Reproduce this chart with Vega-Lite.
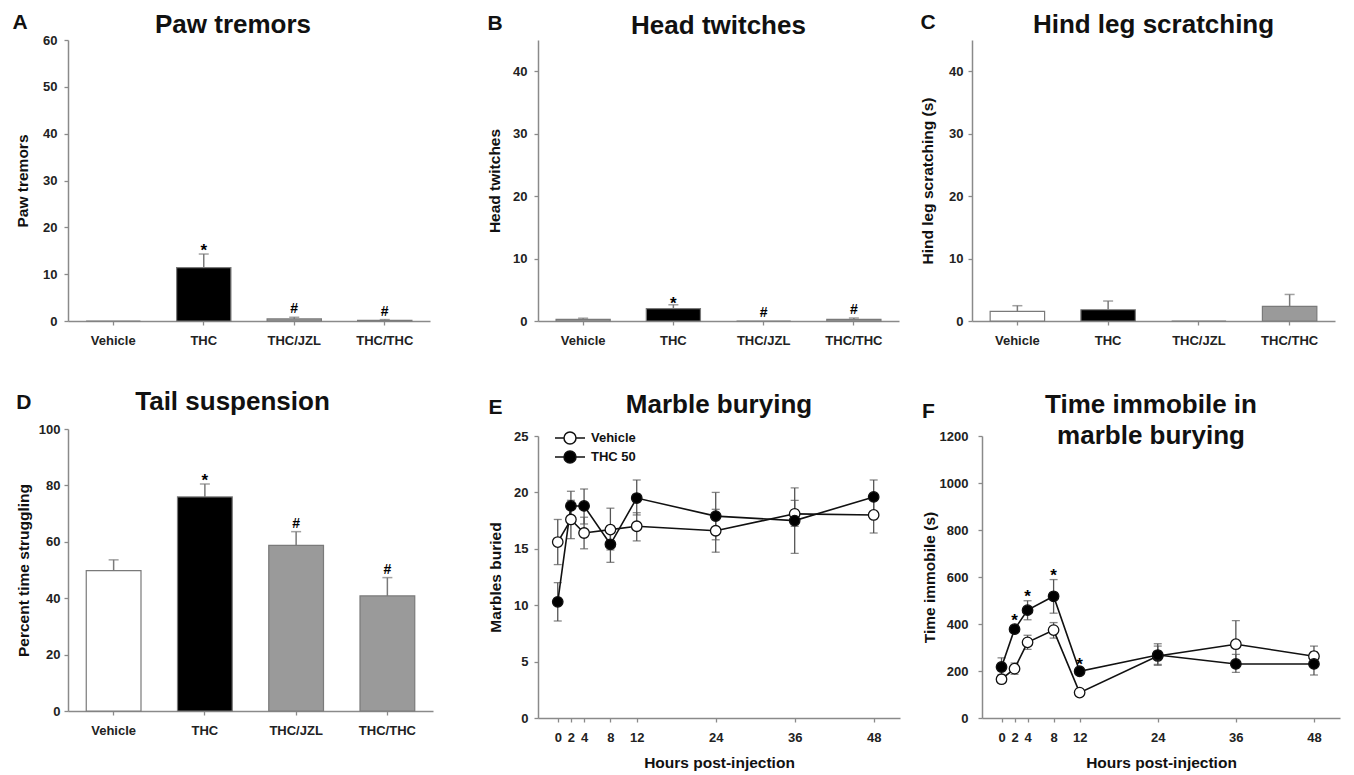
{
  "$schema": "https://vega.github.io/schema/vega-lite/v6.json",
  "background": "white",
  "padding": {"left": 12, "top": 12, "right": 5, "bottom": 2},
  "config": {
    "font": "Liberation Sans",
    "view": {"stroke": null},
    "axis": {"domainColor": "#8a8a8a", "tickColor": "#8a8a8a", "domainWidth": 1.5, "tickWidth": 1.3, "tickSize": 4, "labelFontSize": 13, "labelFontWeight": "bold", "labelColor": "#222222", "titleFontSize": 15.5, "titleFontWeight": "bold", "titleColor": "#111111", "grid": false},
    "axisY": {"labelPadding": 6, "titlePadding": 10},
    "axisX": {"labelPadding": 9, "titlePadding": 11},
    "title": {"fontSize": 26, "fontWeight": "bold", "color": "#111111", "frame": "group"}
  },
  "resolve": {"scale": {"fill": "independent"}, "legend": {"fill": "independent"}},
  "spacing": 54,
  "hconcat": [
    {
      "resolve": {"scale": {"fill": "independent"}, "legend": {"fill": "independent"}},
      "spacing": 42,
      "vconcat": [
        {
          "title": {"text": "A", "anchor": "start", "frame": "bounds", "offset": -21, "fontSize": 21, "dx": -3},
          "vconcat": [{
            "width": 362, "height": 281,
            "title": {"text": "Paw tremors", "offset": -4, "dx": -16},
            "data": {"values": [
              {"g": "Vehicle", "v": 0, "hi": 0, "sig": ""},
              {"g": "THC", "v": 11.4, "hi": 14.3, "sig": "*"},
              {"g": "THC/JZL", "v": 0.45, "hi": 0.8, "sig": "#"},
              {"g": "THC/THC", "v": 0.15, "hi": 0.3, "sig": "#"}
            ]},
            "encoding": {"x": {"field": "g", "type": "nominal", "sort": ["Vehicle", "THC", "THC/JZL", "THC/THC"], "scale": {"paddingInner": 0.4, "paddingOuter": 0.2}, "axis": {"title": null, "labelAngle": 0, "bandPosition": 0.5}}},
            "layer": [
              {"mark": {"type": "bar", "stroke": "#7a7a7a", "strokeWidth": 1.2}, "encoding": {"y": {"field": "v", "type": "quantitative", "title": "Paw tremors", "scale": {"domain": [0, 60], "nice": false}, "axis": {"values": [0, 10, 20, 30, 40, 50, 60], "labelPadding": 7, "titlePadding": 12}}, "fill": {"field": "g", "type": "nominal", "scale": {"domain": ["Vehicle", "THC", "THC/JZL", "THC/THC"], "range": ["#ffffff", "#000000", "#9a9a9a", "#9a9a9a"]}, "legend": null}}},
              {"transform": [{"filter": "datum.hi > datum.v"}], "mark": {"type": "rule", "color": "#7a7a7a", "strokeWidth": 1.5}, "encoding": {"y": {"field": "v", "type": "quantitative", "title": "Paw tremors"}, "y2": {"field": "hi"}}},
              {"transform": [{"filter": "datum.hi > datum.v"}], "mark": {"type": "tick", "orient": "horizontal", "color": "#7a7a7a", "thickness": 1.5, "size": 10}, "encoding": {"y": {"field": "hi", "type": "quantitative", "title": "Paw tremors"}}},
              {"transform": [{"filter": "datum.sig == '*'"}], "mark": {"type": "text", "fontSize": 17, "fontWeight": "bold", "baseline": "alphabetic", "dy": 2}, "encoding": {"y": {"field": "hi", "type": "quantitative", "title": "Paw tremors"}, "text": {"field": "sig"}}},
              {"transform": [{"filter": "datum.sig == '#'"}], "mark": {"type": "text", "fontSize": 14, "fontWeight": "bold", "baseline": "alphabetic", "dy": -4}, "encoding": {"y": {"field": "hi", "type": "quantitative", "title": "Paw tremors"}, "text": {"field": "sig"}}}
            ]
          }]
        },
        {
          "title": {"text": "D", "anchor": "start", "frame": "bounds", "offset": -24, "fontSize": 21},
          "vconcat": [{
            "width": 365, "height": 282,
            "title": {"text": "Tail suspension", "offset": 8, "dx": -18},
            "data": {"values": [
              {"g": "Vehicle", "v": 49.8, "hi": 53.6, "sig": ""},
              {"g": "THC", "v": 75.9, "hi": 80.5, "sig": "*"},
              {"g": "THC/JZL", "v": 58.7, "hi": 63.6, "sig": "#"},
              {"g": "THC/THC", "v": 40.8, "hi": 47.3, "sig": "#"}
            ]},
            "encoding": {"x": {"field": "g", "type": "nominal", "sort": ["Vehicle", "THC", "THC/JZL", "THC/THC"], "scale": {"paddingInner": 0.4, "paddingOuter": 0.2}, "axis": {"title": null, "labelAngle": 0, "bandPosition": 0.5}}},
            "layer": [
              {"mark": {"type": "bar", "stroke": "#7a7a7a", "strokeWidth": 1.2}, "encoding": {"y": {"field": "v", "type": "quantitative", "title": "Percent time struggling", "scale": {"domain": [0, 100], "nice": false}, "axis": {"values": [0, 20, 40, 60, 80, 100], "labelPadding": 4, "titlePadding": 7}}, "fill": {"field": "g", "type": "nominal", "scale": {"domain": ["Vehicle", "THC", "THC/JZL", "THC/THC"], "range": ["#ffffff", "#000000", "#9a9a9a", "#9a9a9a"]}, "legend": null}}},
              {"transform": [{"filter": "datum.hi > datum.v"}], "mark": {"type": "rule", "color": "#7a7a7a", "strokeWidth": 1.5}, "encoding": {"y": {"field": "v", "type": "quantitative", "title": "Percent time struggling"}, "y2": {"field": "hi"}}},
              {"transform": [{"filter": "datum.hi > datum.v"}], "mark": {"type": "tick", "orient": "horizontal", "color": "#7a7a7a", "thickness": 1.5, "size": 10}, "encoding": {"y": {"field": "hi", "type": "quantitative", "title": "Percent time struggling"}}},
              {"transform": [{"filter": "datum.sig == '*'"}], "mark": {"type": "text", "fontSize": 17, "fontWeight": "bold", "baseline": "alphabetic", "dy": 2}, "encoding": {"y": {"field": "hi", "type": "quantitative", "title": "Percent time struggling"}, "text": {"field": "sig"}}},
              {"transform": [{"filter": "datum.sig == '#'"}], "mark": {"type": "text", "fontSize": 14, "fontWeight": "bold", "baseline": "alphabetic", "dy": -4}, "encoding": {"y": {"field": "hi", "type": "quantitative", "title": "Percent time struggling"}, "text": {"field": "sig"}}}
            ]
          }]
        }
      ]
    },
    {
      "resolve": {"scale": {"fill": "independent"}, "legend": {"fill": "independent"}},
      "spacing": 45,
      "vconcat": [
        {
          "resolve": {"scale": {"fill": "independent"}, "legend": {"fill": "independent"}},
          "spacing": 21,
          "hconcat": [
            {
              "title": {"text": "B", "anchor": "start", "frame": "bounds", "offset": -21, "fontSize": 21},
              "vconcat": [{
                "width": 361, "height": 281,
                "title": {"text": "Head twitches", "offset": 1},
                "data": {"values": [
                  {"g": "Vehicle", "v": 0.27, "hi": 0.45, "sig": ""},
                  {"g": "THC", "v": 1.97, "hi": 2.6, "sig": "*"},
                  {"g": "THC/JZL", "v": 0, "hi": 0, "sig": "#"},
                  {"g": "THC/THC", "v": 0.27, "hi": 0.48, "sig": "#"}
                ]},
                "encoding": {"x": {"field": "g", "type": "nominal", "sort": ["Vehicle", "THC", "THC/JZL", "THC/THC"], "scale": {"paddingInner": 0.4, "paddingOuter": 0.2}, "axis": {"title": null, "labelAngle": 0, "bandPosition": 0.5}}},
                "layer": [
                  {"mark": {"type": "bar", "stroke": "#7a7a7a", "strokeWidth": 1.2}, "encoding": {"y": {"field": "v", "type": "quantitative", "title": "Head twitches", "scale": {"domain": [0, 45], "nice": false}, "axis": {"values": [0, 10, 20, 30, 40], "labelPadding": 7, "titlePadding": 10}}, "fill": {"field": "g", "type": "nominal", "scale": {"domain": ["Vehicle", "THC", "THC/JZL", "THC/THC"], "range": ["#9a9a9a", "#000000", "#9a9a9a", "#9a9a9a"]}, "legend": null}}},
                  {"transform": [{"filter": "datum.hi > datum.v"}], "mark": {"type": "rule", "color": "#7a7a7a", "strokeWidth": 1.5}, "encoding": {"y": {"field": "v", "type": "quantitative", "title": "Head twitches"}, "y2": {"field": "hi"}}},
                  {"transform": [{"filter": "datum.hi > datum.v"}], "mark": {"type": "tick", "orient": "horizontal", "color": "#7a7a7a", "thickness": 1.5, "size": 10}, "encoding": {"y": {"field": "hi", "type": "quantitative", "title": "Head twitches"}}},
                  {"transform": [{"filter": "datum.sig == '*'"}], "mark": {"type": "text", "fontSize": 17, "fontWeight": "bold", "baseline": "alphabetic", "dy": 4}, "encoding": {"y": {"field": "hi", "type": "quantitative", "title": "Head twitches"}, "text": {"field": "sig"}}},
                  {"transform": [{"filter": "datum.sig == '#'"}], "mark": {"type": "text", "fontSize": 14, "fontWeight": "bold", "baseline": "alphabetic", "dy": -4}, "encoding": {"y": {"field": "hi", "type": "quantitative", "title": "Head twitches"}, "text": {"field": "sig"}}}
                ]
              }]
            },
            {
              "title": {"text": "C", "anchor": "start", "frame": "bounds", "offset": -21, "fontSize": 21},
              "vconcat": [{
                "width": 363, "height": 281,
                "title": {"text": "Hind leg scratching", "offset": 2},
                "data": {"values": [
                  {"g": "Vehicle", "v": 1.54, "hi": 2.45},
                  {"g": "THC", "v": 1.8, "hi": 3.2},
                  {"g": "THC/JZL", "v": 0, "hi": 0},
                  {"g": "THC/THC", "v": 2.34, "hi": 4.25}
                ]},
                "encoding": {"x": {"field": "g", "type": "nominal", "sort": ["Vehicle", "THC", "THC/JZL", "THC/THC"], "scale": {"paddingInner": 0.4, "paddingOuter": 0.2}, "axis": {"title": null, "labelAngle": 0, "bandPosition": 0.5}}},
                "layer": [
                  {"mark": {"type": "bar", "stroke": "#7a7a7a", "strokeWidth": 1.2}, "encoding": {"y": {"field": "v", "type": "quantitative", "title": "Hind leg scratching (s)", "scale": {"domain": [0, 45], "nice": false}, "axis": {"values": [0, 10, 20, 30, 40], "labelPadding": 5, "titlePadding": 13}}, "fill": {"field": "g", "type": "nominal", "scale": {"domain": ["Vehicle", "THC", "THC/JZL", "THC/THC"], "range": ["#ffffff", "#000000", "#9a9a9a", "#9a9a9a"]}, "legend": null}}},
                  {"transform": [{"filter": "datum.hi > datum.v"}], "mark": {"type": "rule", "color": "#7a7a7a", "strokeWidth": 1.5}, "encoding": {"y": {"field": "v", "type": "quantitative", "title": "Hind leg scratching (s)"}, "y2": {"field": "hi"}}},
                  {"transform": [{"filter": "datum.hi > datum.v"}], "mark": {"type": "tick", "orient": "horizontal", "color": "#7a7a7a", "thickness": 1.5, "size": 10}, "encoding": {"y": {"field": "hi", "type": "quantitative", "title": "Hind leg scratching (s)"}}}
                ]
              }]
            }
          ]
        },
        {
          "resolve": {"scale": {"fill": "independent"}, "legend": {"fill": "independent"}},
          "spacing": 22,
          "hconcat": [
            {
              "title": {"text": "E", "anchor": "start", "frame": "bounds", "offset": -26, "fontSize": 21},
              "vconcat": [{
                "width": 362, "height": 282,
                "title": {"text": "Marble burying", "offset": 12},
                "data": {"values": [
                  {"h": 0, "s": "Vehicle", "m": 15.6, "lo": 13.6, "hi": 17.6},
                  {"h": 2, "s": "Vehicle", "m": 17.6, "lo": 15.9, "hi": 19.3},
                  {"h": 4, "s": "Vehicle", "m": 16.4, "lo": 15.0, "hi": 17.8},
                  {"h": 8, "s": "Vehicle", "m": 16.7, "lo": 14.9, "hi": 18.6},
                  {"h": 12, "s": "Vehicle", "m": 17.0, "lo": 15.7, "hi": 18.2},
                  {"h": 24, "s": "Vehicle", "m": 16.6, "lo": 14.7, "hi": 18.5},
                  {"h": 36, "s": "Vehicle", "m": 18.1, "lo": 17.0, "hi": 19.3},
                  {"h": 48, "s": "Vehicle", "m": 18.0, "lo": 16.4, "hi": 19.6},
                  {"h": 0, "s": "THC 50", "m": 10.3, "lo": 8.6, "hi": 12.0},
                  {"h": 2, "s": "THC 50", "m": 18.8, "lo": 17.4, "hi": 20.1},
                  {"h": 4, "s": "THC 50", "m": 18.8, "lo": 17.2, "hi": 20.3},
                  {"h": 8, "s": "THC 50", "m": 15.4, "lo": 13.8, "hi": 17.0},
                  {"h": 12, "s": "THC 50", "m": 19.5, "lo": 18.0, "hi": 21.1},
                  {"h": 24, "s": "THC 50", "m": 17.9, "lo": 15.8, "hi": 20.0},
                  {"h": 36, "s": "THC 50", "m": 17.5, "lo": 14.6, "hi": 20.4},
                  {"h": 48, "s": "THC 50", "m": 19.6, "lo": 18.2, "hi": 21.1}
                ]},
                "encoding": {"x": {"field": "h", "type": "quantitative", "title": "Hours post-injection", "scale": {"domain": [-3, 52], "nice": false}, "axis": {"values": [0, 2, 4, 8, 12, 24, 36, 48]}}},
                "layer": [
                  {"mark": {"type": "rule", "color": "#555555", "strokeWidth": 1.3}, "encoding": {"y": {"field": "lo", "type": "quantitative", "title": "Marbles buried", "scale": {"domain": [0, 25], "nice": false}, "axis": {"values": [0, 5, 10, 15, 20, 25], "labelPadding": 6, "titlePadding": 10}}, "y2": {"field": "hi"}}},
                  {"mark": {"type": "tick", "orient": "horizontal", "color": "#555555", "thickness": 1.3, "size": 8}, "encoding": {"y": {"field": "lo", "type": "quantitative", "title": "Marbles buried"}}},
                  {"mark": {"type": "tick", "orient": "horizontal", "color": "#555555", "thickness": 1.3, "size": 8}, "encoding": {"y": {"field": "hi", "type": "quantitative", "title": "Marbles buried"}}},
                  {"mark": {"type": "line", "color": "#111111", "strokeWidth": 1.6}, "encoding": {"y": {"field": "m", "type": "quantitative", "title": "Marbles buried"}, "detail": {"field": "s"}}},
                  {"mark": {"type": "point", "filled": true, "size": 110, "opacity": 1, "stroke": "#111111", "strokeWidth": 1.3}, "encoding": {"y": {"field": "m", "type": "quantitative", "title": "Marbles buried"}, "fill": {"field": "s", "type": "nominal", "scale": {"domain": ["Vehicle", "THC 50"], "range": ["#ffffff", "#000000"]}, "legend": {"title": null, "orient": "none", "legendX": 25, "legendY": -5, "symbolType": "M-2.5,0L-1,0M1,0L2.5,0M1,0A1,1,0,1,1,-1,0A1,1,0,1,1,1,0Z", "symbolSize": 144, "symbolStrokeColor": "#111111", "symbolStrokeWidth": 1.5, "labelFontSize": 13, "labelFontWeight": "bold", "labelColor": "#111111", "labelOffset": 14, "rowPadding": 1}}}}
                ]
              }]
            },
            {
              "title": {"text": "F", "anchor": "start", "frame": "bounds", "offset": -30, "fontSize": 21},
              "vconcat": [{
                "width": 358, "height": 282,
                "title": {"text": "Time immobile in", "subtitle": "marble burying", "subtitleFontSize": 26, "subtitleFontWeight": "bold", "subtitleColor": "#111111", "subtitlePadding": 5, "offset": -19, "dx": -10},
                "data": {"values": [
                  {"h": 0, "s": "Vehicle", "m": 165, "lo": 148, "hi": 185, "sig": ""},
                  {"h": 2, "s": "Vehicle", "m": 210, "lo": 186, "hi": 234, "sig": ""},
                  {"h": 4, "s": "Vehicle", "m": 322, "lo": 292, "hi": 352, "sig": ""},
                  {"h": 8, "s": "Vehicle", "m": 374, "lo": 340, "hi": 406, "sig": ""},
                  {"h": 12, "s": "Vehicle", "m": 108, "lo": 100, "hi": 116, "sig": ""},
                  {"h": 24, "s": "Vehicle", "m": 264, "lo": 224, "hi": 306, "sig": ""},
                  {"h": 36, "s": "Vehicle", "m": 314, "lo": 214, "hi": 414, "sig": ""},
                  {"h": 48, "s": "Vehicle", "m": 263, "lo": 222, "hi": 306, "sig": ""},
                  {"h": 0, "s": "THC 50", "m": 217, "lo": 179, "hi": 256, "sig": ""},
                  {"h": 2, "s": "THC 50", "m": 378, "lo": 362, "hi": 394, "sig": "*"},
                  {"h": 4, "s": "THC 50", "m": 459, "lo": 418, "hi": 499, "sig": "*"},
                  {"h": 8, "s": "THC 50", "m": 518, "lo": 446, "hi": 589, "sig": "*"},
                  {"h": 12, "s": "THC 50", "m": 199, "lo": 189, "hi": 210, "sig": "*"},
                  {"h": 24, "s": "THC 50", "m": 268, "lo": 228, "hi": 316, "sig": ""},
                  {"h": 36, "s": "THC 50", "m": 230, "lo": 194, "hi": 271, "sig": ""},
                  {"h": 48, "s": "THC 50", "m": 230, "lo": 183, "hi": 281, "sig": ""}
                ]},
                "encoding": {"x": {"field": "h", "type": "quantitative", "title": "Hours post-injection", "scale": {"domain": [-3, 52], "nice": false}, "axis": {"values": [0, 2, 4, 8, 12, 24, 36, 48]}}},
                "layer": [
                  {"mark": {"type": "rule", "color": "#555555", "strokeWidth": 1.3}, "encoding": {"y": {"field": "lo", "type": "quantitative", "title": "Time immobile (s)", "scale": {"domain": [0, 1200], "nice": false}, "axis": {"values": [0, 200, 400, 600, 800, 1000, 1200], "format": "d", "labelPadding": 10, "titlePadding": 2}}, "y2": {"field": "hi"}}},
                  {"mark": {"type": "tick", "orient": "horizontal", "color": "#555555", "thickness": 1.3, "size": 8}, "encoding": {"y": {"field": "lo", "type": "quantitative", "title": "Time immobile (s)"}}},
                  {"mark": {"type": "tick", "orient": "horizontal", "color": "#555555", "thickness": 1.3, "size": 8}, "encoding": {"y": {"field": "hi", "type": "quantitative", "title": "Time immobile (s)"}}},
                  {"mark": {"type": "line", "color": "#111111", "strokeWidth": 1.6}, "encoding": {"y": {"field": "m", "type": "quantitative", "title": "Time immobile (s)"}, "detail": {"field": "s"}}},
                  {"mark": {"type": "point", "filled": true, "size": 110, "opacity": 1, "stroke": "#111111", "strokeWidth": 1.3}, "encoding": {"y": {"field": "m", "type": "quantitative", "title": "Time immobile (s)"}, "fill": {"field": "s", "type": "nominal", "scale": {"domain": ["Vehicle", "THC 50"], "range": ["#ffffff", "#000000"]}, "legend": null}}},
                  {"transform": [{"filter": "datum.sig == '*'"}], "mark": {"type": "text", "fontSize": 17, "fontWeight": "bold", "baseline": "alphabetic", "dy": 1}, "encoding": {"y": {"field": "hi", "type": "quantitative", "title": "Time immobile (s)"}, "text": {"field": "sig"}}}
                ]
              }]
            }
          ]
        }
      ]
    }
  ]
}
